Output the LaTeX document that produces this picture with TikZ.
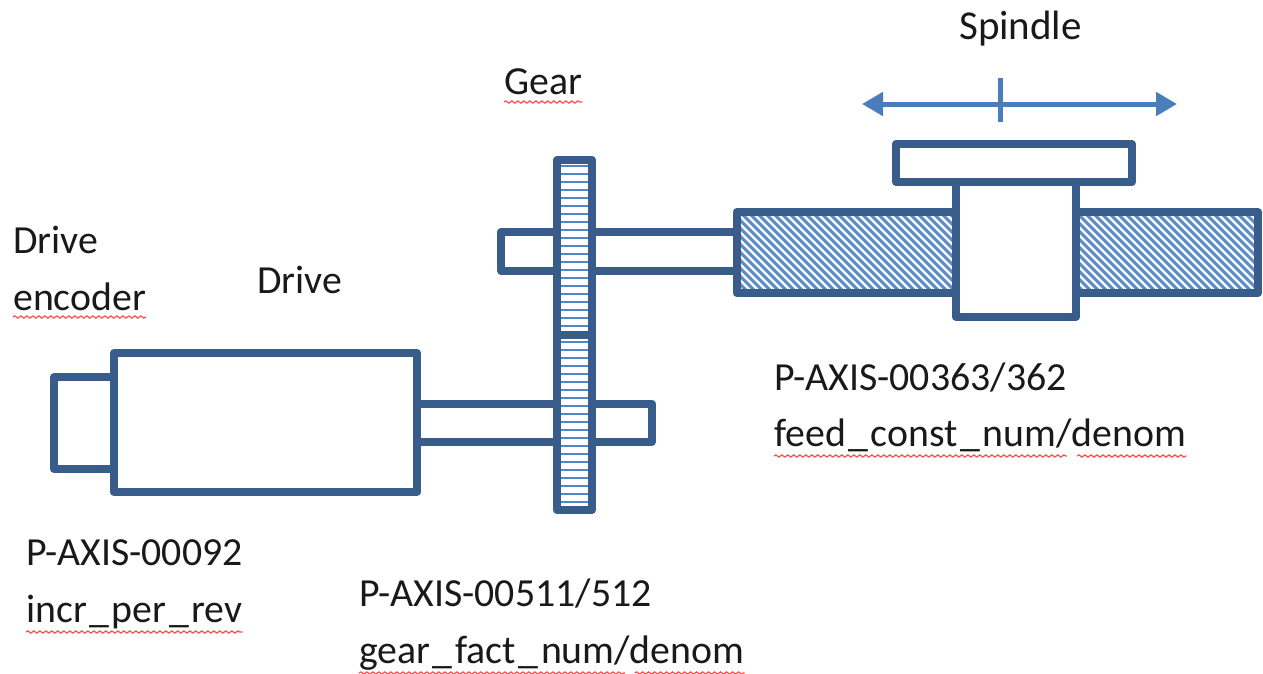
\documentclass[tikz,border=0pt]{standalone}
\usepackage{fontspec}
\setmainfont{Carlito}
\usetikzlibrary{decorations.pathmorphing,arrows.meta,calc}
\definecolor{edgeblue}{HTML}{385D8A}
\definecolor{hatchblue}{HTML}{5F8CC4}
\definecolor{gearblue}{HTML}{4F86CC}
\definecolor{arrowblue}{HTML}{4A7EBB}
\newcommand{\usc}{\kern2.6pt\_\kern2.6pt}
\tikzset{
  part/.style={draw=edgeblue,line width=8pt,line join=round},
  label/.style={anchor=base west,inner sep=0pt,text=black!90,font=\fontsize{39.8}{40}\selectfont},
  wavy/.style={draw=red!70!white,line width=1.2pt,decorate,decoration={snake,amplitude=1.1pt,segment length=6pt}},
  hatchline/.style={draw=gearblue,line width=2pt},
  stripe/.style={draw=hatchblue,line width=2.9pt},
  motion/.style={draw=arrowblue,line width=5pt}
}
\begin{document}
\begin{tikzpicture}[x=1pt,y=-1pt]
\useasboundingbox (0,0) rectangle (1263,673);
% lower train
\draw[part] (54,377) rectangle (114,469);
\draw[part] (114,353) rectangle (417,492);
\draw[part] (417,403.5) -- (652,403.5) -- (652,441.5) -- (417,441.5);
% upper shaft
\draw[part] (736.5,232) -- (501,232) -- (501,270.5) -- (736.5,270.5);
% gear hatch
\fill[white] (557,160) rectangle (592,510);
\begin{scope}
  \clip (557,160) rectangle (592,510);
  \foreach \k in {0,...,43} { \draw[hatchline] (550,{165.5+8*\k}) -- (600,{165.5+8*\k}); }
\end{scope}
% gears
\draw[part] (557,160) rectangle (592,335);
\draw[part] (557,335) rectangle (592,510);
% screw hatch
\begin{scope}
  \clip (736.5,212) rectangle (1258,293);
  \foreach \k in {0,...,75} { \draw[stripe] ({640+8*\k},200) -- ({640+8*\k+105},305); }
\end{scope}
% screw
\draw[part] (736.5,212) rectangle (1258,293);
% nut
\draw[part,fill=white] (956,182) rectangle (1076,317);
\draw[part,fill=white] (896,144) rectangle (1132,182);
% motion arrow
\coordinate (mL) at (862,104);
\coordinate (mR) at (1177,104);
\coordinate (mT) at (1000,78);
\coordinate (mB) at (1000,122);
\draw[motion,{Triangle[length=21pt,width=23pt]}-{Triangle[length=21pt,width=23pt]}] (mL) -- (mR);
\draw[motion] (mT) -- (mB);
% labels
\node[label,font=\fontsize{41}{41}\selectfont] (spindle) at (959,39) {Spindle};
\node[label] (gear) at (504,94) {Gear};
\node[label] (drvenc) at (13,253) {Drive};
\node[label] (enc) at (13,310) {encoder};
\node[label] (drv) at (257,293) {Drive};
\node[label] (pa92) at (26,565) {P-AXIS-00092};
\node[label] (incr) at (26,622) {incr\usc per\usc rev};
\node[label] (pa511) at (359,606) {P-AXIS-00511/512};
\node[label] (gfact) at (359,663) {gear\usc fact\usc num/denom};
\node[label] (pa363) at (774,390) {P-AXIS-00363/362};
\node[label] (feed) at (774,446) {feed\usc const\usc num/denom};
% spell-check underlines
\draw[wavy] ([yshift=-8pt]gear.base west) -- ([yshift=-8pt]gear.base east);
\draw[wavy] ([yshift=-7pt]enc.base west) -- ([yshift=-7pt]enc.base east);
\draw[wavy] ([yshift=-10pt]incr.base west) -- ([yshift=-10pt]incr.base east);
\draw[wavy] ([yshift=-10pt]gfact.base west) -- ([yshift=-10pt]$(gfact.base west)!0.69!(gfact.base east)$);
\draw[wavy] ([yshift=-10pt]$(gfact.base west)!0.715!(gfact.base east)$) -- ([yshift=-10pt]gfact.base east);
\draw[wavy] ([yshift=-10pt]feed.base west) -- ([yshift=-10pt]$(feed.base west)!0.71!(feed.base east)$);
\draw[wavy] ([yshift=-10pt]$(feed.base west)!0.735!(feed.base east)$) -- ([yshift=-10pt]feed.base east);
\end{tikzpicture}
\end{document}
